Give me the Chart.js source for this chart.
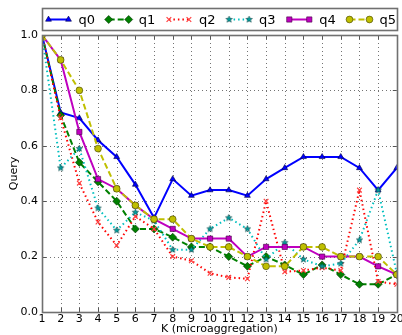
<!DOCTYPE html>
<html><head><meta charset="utf-8">
<script src="https://cdn.jsdelivr.net/npm/chart.js@4.4.0/dist/chart.umd.min.js"></script>
<style>html,body{margin:0;padding:0;background:#fff;overflow:hidden}</style>
</head><body>
<canvas id="c" width="402" height="335"></canvas>
<script>
const kValues = [1,2,3,4,5,6,7,8,9,10,11,12,13,14,15,16,17,18,19,20];
const seriesNames = ['q0','q1','q2','q3','q4','q5'];
const q0 = [1.0,0.72,0.70,0.62,0.56,0.46,0.34,0.48,0.42,0.44,0.44,0.42,0.48,0.52,0.56,0.56,0.56,0.52,0.44,0.52];
const q1 = [1.0,0.71,0.54,0.47,0.40,0.30,0.30,0.27,0.235,0.235,0.20,0.165,0.20,0.17,0.135,0.17,0.135,0.10,0.10,0.135];
const q2 = [1.0,0.70,0.465,0.325,0.24,0.345,0.30,0.20,0.185,0.14,0.125,0.12,0.40,0.145,0.15,0.16,0.15,0.44,0.11,0.10];
const q3 = [1.0,0.52,0.59,0.375,0.295,0.36,0.33,0.225,0.225,0.30,0.34,0.30,0.19,0.25,0.19,0.165,0.175,0.26,0.44,0.14];
const q4 = [1.0,0.91,0.65,0.48,0.445,0.385,0.335,0.30,0.265,0.265,0.265,0.20,0.235,0.235,0.235,0.20,0.20,0.20,0.165,0.135];
const q5 = [1.0,0.91,0.80,0.59,0.445,0.385,0.335,0.335,0.265,0.235,0.235,0.20,0.165,0.165,0.235,0.235,0.20,0.20,0.20,0.135];
const yTicks = [0.0,0.2,0.4,0.6,0.8,1.0];
const xLabel = 'K (microaggregation)';
const yLabel = 'Query';

const FONT = "'DejaVu Sans', sans-serif";

function starCanvas(){
  const s = 9, c = document.createElement('canvas'); c.width = s; c.height = s;
  const g = c.getContext('2d'); const cx = s/2, cy = s/2, R = 3.4, r = 1.5;
  g.beginPath();
  for (let i = 0; i < 10; i++) {
    const a = -Math.PI/2 + i*Math.PI/5, rr = i%2 ? r : R;
    g.lineTo(cx + rr*Math.cos(a), cy + rr*Math.sin(a));
  }
  g.closePath(); g.fillStyle = '#00a0a0'; g.fill();
  g.lineWidth = 0.5; g.strokeStyle = '#003030'; g.stroke();
  return c;
}
const star = starCanvas();

const styles = [
  {color:'#0000ff', dash:[], ps:'triangle', r:3.4, fill:'#0000ff', edge:'#000040'},
  {color:'#008000', dash:[6,3], ps:'rectRot', r:4, fill:'#008000', edge:'#003000'},
  {color:'#ff0000', dash:[1.5,3], ps:'crossRot', r:3.3, fill:'#ff0000', edge:'#ff4040', lw:1.2},
  {color:'#00bfbf', dash:[1.5,3], ps:star, r:4, fill:'#00a0a0', edge:'#003030'},
  {color:'#bf00bf', dash:[], ps:'rect', r:3.7, fill:'#bf00bf', edge:'#400040'},
  {color:'#bfbf00', dash:[6,3], ps:'circle', r:3.4, fill:'#bfbf00', edge:'#404000'}
];
const values = [q0,q1,q2,q3,q4,q5];

const datasets = values.map((arr, i) => ({
  label: seriesNames[i],
  data: arr.map((v, j) => ({x: kValues[j], y: v})),
  borderColor: styles[i].color,
  borderWidth: 2,
  borderDash: styles[i].dash,
  pointStyle: styles[i].ps,
  pointRadius: styles[i].r,
  pointBackgroundColor: styles[i].fill,
  pointBorderColor: styles[i].edge,
  pointBorderWidth: styles[i].lw || 0.6,
  tension: 0,
  fill: false,
  order: 5 - i
}));

const gridPlugin = {
  id: 'dotgrid',
  beforeDatasetsDraw(chart) {
    const {ctx, chartArea: a, scales} = chart;
    ctx.save();
    ctx.strokeStyle = 'rgba(0,0,0,0.55)'; ctx.lineWidth = 1; ctx.setLineDash([1,3]);
    ctx.beginPath();
    kValues.forEach(k => {
      const px = Math.round(scales.x.getPixelForValue(k)) + 0.5;
      ctx.moveTo(px, a.bottom); ctx.lineTo(px, a.top);
    });
    yTicks.forEach(t => {
      const py = Math.round(scales.y.getPixelForValue(t)) + 0.5;
      ctx.moveTo(a.left, py); ctx.lineTo(a.right, py);
    });
    ctx.stroke();
    ctx.restore();
  }
};

const framePlugin = {
  id: 'frame',
  afterDatasetsDraw(chart) {
    const {ctx, chartArea: a, scales} = chart;
    ctx.save();
    ctx.strokeStyle = '#555'; ctx.lineWidth = 1;
    ctx.beginPath();
    kValues.forEach(k => {
      const px = Math.round(scales.x.getPixelForValue(k)) + 0.5;
      ctx.moveTo(px, a.top); ctx.lineTo(px, a.top + 4);
      ctx.moveTo(px, a.bottom); ctx.lineTo(px, a.bottom - 4);
    });
    yTicks.forEach(t => {
      const py = Math.round(scales.y.getPixelForValue(t)) + 0.5;
      ctx.moveTo(a.left, py); ctx.lineTo(a.left + 4, py);
      ctx.moveTo(a.right, py); ctx.lineTo(a.right - 4, py);
    });
    ctx.stroke();
    ctx.lineWidth = 1.6; ctx.strokeStyle = '#707070';
    ctx.strokeRect(Math.round(a.left)+0.5, Math.round(a.top)+0.5, Math.round(a.right - a.left), Math.round(a.bottom - a.top));
    ctx.restore();
  },
  afterDraw(chart) {
    const ctx = chart.ctx;
    const a = chart.chartArea;
    ctx.save();
    const bx = Math.round(a.left) + 0.5, by = 8.5, bw = Math.round(a.right - a.left), bh = 22;
    ctx.fillStyle = '#fff'; ctx.fillRect(bx, by, bw, bh);
    ctx.strokeStyle = '#707070'; ctx.lineWidth = 1.6; ctx.strokeRect(bx, by, bw, bh);
    const cy = by + bh/2;
    ctx.font = '13px ' + FONT; ctx.textBaseline = 'middle'; ctx.fillStyle = '#000';
    chart.data.datasets.forEach((ds, i) => {
      const x0 = bx + 6 + i * 60.2, x1 = x0 + 20;
      ctx.save();
      ctx.strokeStyle = ds.borderColor; ctx.lineWidth = ds.borderWidth; ctx.setLineDash(ds.borderDash);
      ctx.beginPath(); ctx.moveTo(x0, cy); ctx.lineTo(x1, cy); ctx.stroke();
      ctx.setLineDash([]);
      const opt = {pointStyle: ds.pointStyle, radius: ds.pointRadius, rotation: 0, borderWidth: ds.pointBorderWidth};
      ctx.fillStyle = ds.pointBackgroundColor; ctx.strokeStyle = ds.pointBorderColor; ctx.lineWidth = ds.pointBorderWidth;
      Chart.helpers.drawPoint(ctx, opt, x0, cy);
      ctx.fillStyle = ds.pointBackgroundColor; ctx.strokeStyle = ds.pointBorderColor;
      Chart.helpers.drawPoint(ctx, opt, x1, cy);
      ctx.restore();
      ctx.fillStyle = '#000';
      ctx.fillText(ds.label, x1 + 10, cy + 1);
    });
    ctx.restore();
  }
};

new Chart(document.getElementById('c'), {
  type: 'line',
  data: {datasets},
  plugins: [gridPlugin, framePlugin],
  options: {
    responsive: false,
    devicePixelRatio: 1,
    animation: false,
    layout: {padding: {top: 35, right: 4, left: 0, bottom: 0}},
    plugins: {legend: {display: false}, tooltip: {enabled: false}},
    elements: {line: {borderJoinStyle: 'miter'}},
    scales: {
      x: {
        type: 'linear', min: 1, max: 20,
        afterBuildTicks: s => { s.ticks = kValues.map(v => ({value: v})); },
        afterFit: s => { s.height = 23; s.paddingLeft = 0; s.paddingRight = 0; },
        grid: {display: false, drawTicks: false},
        border: {display: false},
        ticks: {color: '#000', font: {family: FONT, size: 11}, padding: 1, maxRotation: 0, autoSkip: false},
        title: {display: true, text: xLabel, color: '#000', font: {family: FONT, size: 11, lineHeight: 1}, padding: {top: 0, bottom: 0}}
      },
      y: {
        type: 'linear', min: 0, max: 1,
        afterBuildTicks: s => { s.ticks = yTicks.map(v => ({value: v})); },
        afterFit: s => { s.width = 42; s.paddingTop = 0; s.paddingBottom = 0; },
        grid: {display: false, drawTicks: false},
        border: {display: false},
        ticks: {color: '#000', font: {family: FONT, size: 11}, padding: 4, callback: v => Number(v).toFixed(1)},
        title: {display: true, text: yLabel, color: '#000', font: {family: FONT, size: 11, lineHeight: 1}, padding: {top: 9, bottom: 0}}
      }
    }
  }
});
</script>
</body></html>
